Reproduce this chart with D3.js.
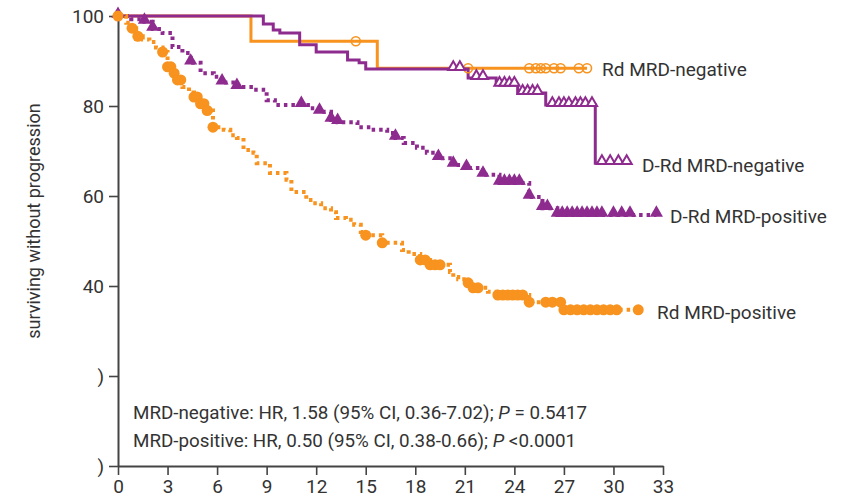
<!DOCTYPE html>
<html>
<head>
<meta charset="utf-8">
<script src="https://cdn.jsdelivr.net/npm/d3@7"></script>
<style>
  body { margin: 0; background: #fff; }
  text { font-family: Roboto, "Noto Sans", sans-serif; fill: #333; }
</style>
</head>
<body>
<div id="chart"></div>
<script>
// chart size
var chart_width = 845;
var chart_height = 502;
var margin = { left: 118, top: 16, right: 182, bottom: 36 };

var x_ticks = [0, 3, 6, 9, 12, 15, 18, 21, 24, 27, 30, 33];
var y_ticks = [0, 20, 40, 60, 80, 100];
var y_tick_labels = [")", ")", "40", "60", "80", "100"];

// Rd MRD-negative (solid orange, open circles)
var rdNegTime = [0, 8.05, 15.7, 28.4];
var rdNegSurv = [100, 94.4, 88.4, 88.4];
var rdNegCensor = [14.4, 21.2, 24.9, 25.3, 25.6, 25.9, 26.4, 26.8, 27.9, 28.4];

// D-Rd MRD-negative (solid purple, open triangles)
var drdNegTime = [0, 8.8, 9.4, 9.8, 11.0, 12.0, 13.9, 14.6, 15.0, 21.2, 22.9, 24.2, 25.9, 28.9, 30.8];
var drdNegSurv = [100, 98.2, 96.9, 96.2, 93.6, 92.0, 90.2, 89.6, 88.2, 86.2, 84.7, 82.9, 80.2, 67.3, 67.3];
var drdNegCensor = [20.3, 20.7, 21.7, 22.1, 23.1, 23.4, 23.7, 24.0, 24.5, 24.8, 25.1, 25.4,
    26.3, 26.7, 27.0, 27.3, 27.7, 28.0, 28.3, 28.7, 29.3, 29.8, 30.3, 30.8];

// D-Rd MRD-positive (dotted purple, filled triangles)
var drdPosTime = [0, 0.8, 1.6, 2.1, 2.7, 3.3, 3.9, 4.4, 5.0, 5.8, 6.3, 7.2, 8.2, 9.0, 9.5, 11.5,
    12.2, 12.9, 13.3, 14.5, 15.3, 16.3, 16.8, 17.3, 18.1, 18.7, 19.4, 20.3, 21.1, 22.1, 23.1,
    24.9, 25.7, 26.6, 32.6];
var drdPosSurv = [100, 99.3, 98.7, 97.1, 96.2, 93.1, 91.8, 89.6, 87.3, 86.5, 85.2, 84.2, 83.6, 81.3, 80.2, 79.5,
    78.7, 76.9, 76.4, 75.3, 74.7, 74.0, 72.9, 71.8, 70.7, 69.6, 68.4, 66.9, 66.2, 64.7, 62.9,
    59.8, 57.3, 55.8, 55.8];
var drdPosCensor = [0, 1.6, 2.1, 4.4, 6.3, 7.2, 11.1, 12.2, 12.9, 13.3, 16.8, 19.4, 20.3, 21.1, 22.1,
    23.1, 23.4, 23.7, 24.0, 24.3, 24.9, 25.7, 26.0, 26.6, 26.9, 27.2, 27.5, 27.8, 28.1, 28.4,
    28.7, 29.0, 29.3, 30.0, 30.5, 31.0, 32.6];

// Rd MRD-positive (dotted orange, filled circles)
var rdPosTime = [0, 0.5, 0.8, 1.1, 1.5, 1.9, 2.3, 2.7, 3.0, 3.3, 3.6, 3.9, 4.3, 4.6, 5.0, 5.4, 5.75,
    6.4, 6.8, 7.2, 7.6, 8.2, 8.4, 9.2, 10.2, 10.5, 11.4, 11.8, 12.3, 12.9, 13.2, 13.8, 14.3, 14.7,
    15.0, 16.0, 17.2, 17.6, 18.3, 18.9, 20.1, 20.3, 20.6, 21.2, 21.4, 22.4, 22.9, 24.9, 26.9, 31.5];
var rdPosSurv = [100, 98.5, 97.3, 95.5, 94.8, 94.2, 93.0, 92.0, 88.7, 87.3, 85.8, 84.2, 83.0, 82.0, 80.5, 79.0, 75.3,
    74.7, 73.5, 72.9, 70.2, 69.6, 67.3, 65.1, 63.6, 60.9, 59.1, 58.4, 57.3, 56.4, 55.1, 54.7, 53.6, 52.0,
    51.3, 49.6, 48.0, 47.1, 45.8, 44.7, 43.1, 42.0, 41.5, 40.7, 39.6, 38.7, 38.0, 36.4, 34.7, 34.7];
var rdPosCensor = [0, 0.85, 1.2, 2.7, 3.0, 3.2, 3.4, 3.6, 3.8, 4.6, 4.8, 5.0, 5.2, 5.4, 5.75, 15.0, 16.0,
    18.3, 18.6, 18.9, 19.2, 19.5, 21.2, 21.5, 21.8, 23.0, 23.3, 23.6, 23.9, 24.2, 24.5, 24.9,
    25.9, 26.3, 26.8, 27.0, 27.4, 27.8, 28.2, 28.6, 29.0, 29.4, 29.8, 30.2, 31.5];

var series_names = ["Rd MRD-negative", "D-Rd MRD-negative", "D-Rd MRD-positive", "Rd MRD-positive"];

var orange = "#f7931e";
var purple = "#8e2b8e";

var x = d3.scaleLinear().domain([0, 33]).range([margin.left, chart_width - margin.right]);
var y = d3.scaleLinear().domain([0, 100]).range([chart_height - margin.bottom, margin.top]);

var svg = d3.select("#chart")
    .append("svg")
    .attr("width", chart_width)
    .attr("height", chart_height);

// step lookup - survival value at time t
var survAt = function(times, surv, t) {
    var i = d3.bisectRight(times, t) - 1;
    return surv[Math.max(0, i)];
};

var line = d3.line()
    .x(function(d) { return x(d[0]); })
    .y(function(d) { return y(d[1]); })
    .curve(d3.curveStepAfter);

var series = [
    { time: rdNegTime, surv: rdNegSurv, censor: rdNegCensor, color: orange, dotted: false, mark: "circle-open" },
    { time: drdNegTime, surv: drdNegSurv, censor: drdNegCensor, color: purple, dotted: false, mark: "tri-open" },
    { time: drdPosTime, surv: drdPosSurv, censor: drdPosCensor, color: purple, dotted: true, mark: "tri" },
    { time: rdPosTime, surv: rdPosSurv, censor: rdPosCensor, color: orange, dotted: true, mark: "circle" }
];

// axes
var xAxis = d3.axisBottom(x).tickValues(x_ticks).tickSize(9).tickSizeOuter(0).tickPadding(5);
var yAxis = d3.axisLeft(y).tickValues(y_ticks).tickSize(9).tickSizeOuter(0).tickPadding(5)
    .tickFormat(function(d, i) { return y_tick_labels[i]; });

var gx = svg.append("g")
    .attr("transform", "translate(0," + y(0) + ")")
    .call(xAxis);
var gy = svg.append("g")
    .attr("transform", "translate(" + x(0) + ",0)")
    .call(yAxis);

[gx, gy].forEach(function(g) {
    g.select(".domain").attr("stroke", "#444").attr("stroke-width", 2);
    g.selectAll(".tick line").attr("stroke", "#444").attr("stroke-width", 1.6);
    g.selectAll(".tick text").attr("font-size", 19).attr("fill", "#333")
        .style("font-family", "Roboto, sans-serif");
});

svg.append("text")
    .attr("transform", "translate(40,221) rotate(-90)")
    .attr("text-anchor", "middle")
    .attr("font-size", 18)
    .text("surviving without progression");

// curves
var curves = svg.append("g");
series.forEach(function(s) {
    var pts = s.time.map(function(t, i) { return [t, s.surv[i]]; });
    curves.append("path")
        .datum(pts)
        .attr("d", line)
        .attr("fill", "none")
        .attr("stroke", s.color)
        .attr("stroke-width", s.dotted ? 4 : 3)
        .attr("stroke-dasharray", s.dotted ? "3.5,4" : null);
});

// censor marks
var tri = d3.symbol().type(d3.symbolTriangle);
series.forEach(function(s) {
    var g = curves.append("g");
    var marks = g.selectAll(".m")
        .data(s.censor)
        .enter();
    if (s.mark === "circle" || s.mark === "circle-open") {
        marks.append("circle")
            .attr("cx", function(d) { return x(d); })
            .attr("cy", function(d) { return y(survAt(s.time, s.surv, d)); })
            .attr("r", s.mark === "circle" ? 5.5 : 4.5)
            .attr("fill", s.mark === "circle" ? s.color : "#fff")
            .attr("fill-opacity", s.mark === "circle" ? 1 : 0)
            .attr("stroke", s.color)
            .attr("stroke-width", s.mark === "circle" ? 0 : 1.6);
    } else {
        marks.append("path")
            .attr("d", tri.size(s.mark === "tri" ? 75 : 45)())
            .attr("transform", function(d) {
                return "translate(" + x(d) + "," + (y(survAt(s.time, s.surv, d)) - 2) + ")";
            })
            .attr("fill", s.mark === "tri" ? s.color : "#fff")
            .attr("stroke", s.color)
            .attr("stroke-width", s.mark === "tri" ? 0 : 2);
    }
});

// series labels
var label_pos = [[602, 69], [642, 165], [670, 216], [657, 312]];
series_names.forEach(function(name, i) {
    svg.append("text")
        .attr("x", label_pos[i][0])
        .attr("y", label_pos[i][1])
        .attr("dy", "0.35em")
        .attr("font-size", 19)
        .text(name);
});

// stats
var stats = svg.append("g").attr("font-size", 18.8);
var t1 = stats.append("text").attr("x", 133).attr("y", 412).attr("dy", "0.35em");
t1.append("tspan").text("MRD-negative: HR, 1.58 (95% CI, 0.36-7.02); ");
t1.append("tspan").attr("font-style", "italic").text("P");
t1.append("tspan").text(" = 0.5417");
var t2 = stats.append("text").attr("x", 133).attr("y", 440).attr("dy", "0.35em");
t2.append("tspan").text("MRD-positive: HR, 0.50 (95% CI, 0.38-0.66); ");
t2.append("tspan").attr("font-style", "italic").text("P");
t2.append("tspan").text(" <0.0001");
</script>
</body>
</html>
